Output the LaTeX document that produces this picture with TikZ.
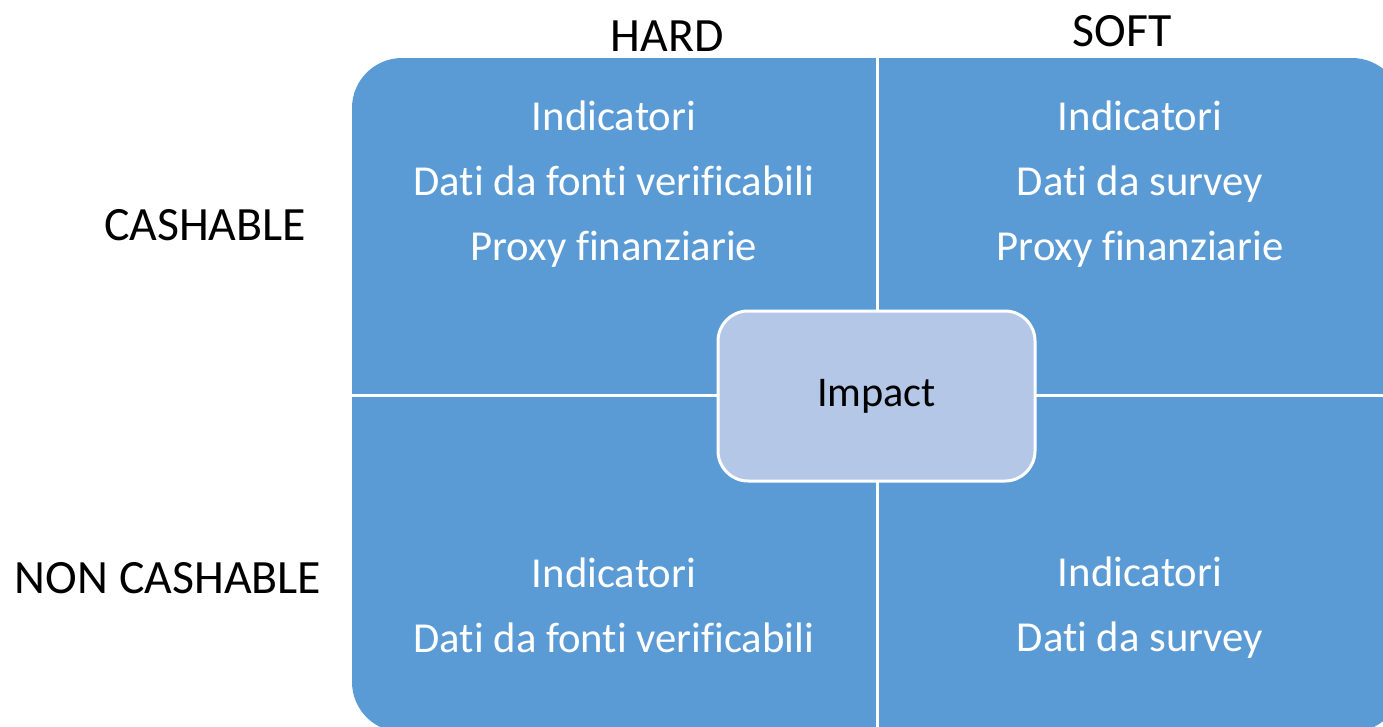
\documentclass[tikz,border=0pt]{standalone}
\usepackage{fontspec}
\setmainfont{Carlito}[Ligatures=NoCommon]
\definecolor{quadblue}{HTML}{5B9BD5}
\definecolor{impactblue}{HTML}{B4C7E7}

\begin{document}
\begin{tikzpicture}[x=1pt,y=-1pt,
  quadtext/.style={text=white,align=center,font=\fontsize{42.7}{65}\selectfont},
  axislabel/.style={text=black,font=\fontsize{47.8}{55}\selectfont},
  impactbox/.style={draw=white,line width=3pt,fill=impactblue,rounded corners=30pt,
    minimum width=317pt,minimum height=170pt,font=\fontsize{42.3}{50}\selectfont}]
\useasboundingbox (0,0) rectangle (1383,726);
\clip (0,0) rectangle (1383,726);
% matrix
\fill[quadblue,rounded corners=50pt] (352,58) rectangle (1402,732);
\coordinate (top) at (877,58);
\coordinate (bottom) at (877,732);
\coordinate (left) at (352,395);
\coordinate (right) at (1402,395);
\draw[white,line width=3pt] (top) -- (bottom) (left) -- (right);
% quadrants
\node[quadtext] (hardcash) at (614,184) {Indicatori\\Dati da fonti verificabili\\Proxy finanziarie};
\node[quadtext] (softcash) at (1140,184) {Indicatori\\Dati da survey\\Proxy finanziarie};
\node[quadtext] (hardnon) at (614,605) {Indicatori\\Dati da fonti verificabili};
\node[quadtext] (softnon) at (1140,608) {Indicatori\\Dati da survey};
\node[impactbox] (impact) at (876.5,396) {Impact};
% labels
\node[axislabel] (hard) at (667,36) {HARD};
\node[axislabel] (soft) at (1122,31) {SOFT};
\node[axislabel] (cashable) at (205,225) {CASHABLE};
\node[axislabel] (noncashable) at (168,578) {NON CASHABLE};
\end{tikzpicture}
\end{document}
